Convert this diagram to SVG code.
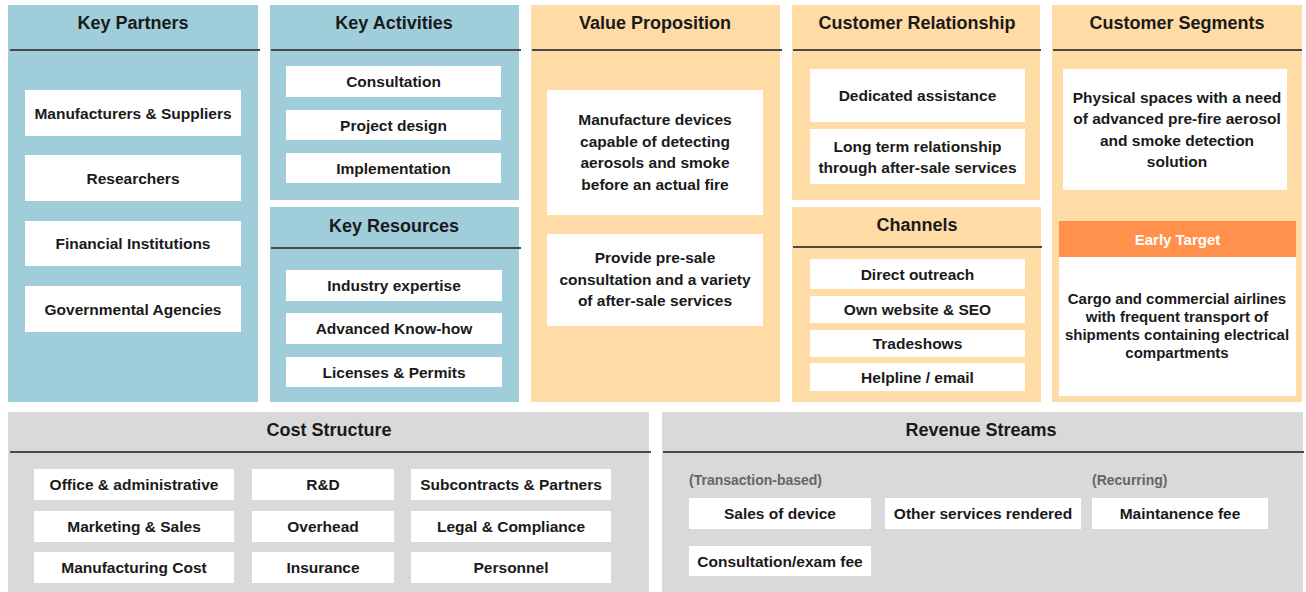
<svg xmlns="http://www.w3.org/2000/svg" width="1306" height="592" viewBox="0 0 1306 592">
  <style>
    .blue { fill: #A0CDDA; }
    .peach { fill: #FFDBA6; }
    .grey { fill: #D9D9D9; }
    .card { fill: #FFFFFF; }
    .rule { stroke: #4A4A4A; stroke-width: 2; }
    text { font-family: "Liberation Sans", Arial, sans-serif; font-weight: bold; fill: #1A1A1A; text-anchor: middle; }
    .title { font-size: 18px; }
    .item { font-size: 15.5px; }
    .small { font-size: 15px; }
    .note { font-size: 14px; fill: #666666; text-anchor: start; }
    .tag { font-size: 15px; fill: #FFFFFF; }
  </style>

  <rect width="1306" height="592" fill="#FFFFFF"/>

  <!-- Key Partners -->
  <g id="key-partners">
    <rect class="blue" x="8" y="5" width="250" height="397"/>
    <line class="rule" x1="10" y1="50" x2="260" y2="50"/>
    <text class="title" x="133" y="29">Key Partners</text>
    <rect class="card" x="25" y="90" width="216" height="46"/>
    <text class="item" x="133" y="118.5">Manufacturers &amp; Suppliers</text>
    <rect class="card" x="25" y="155" width="216" height="46"/>
    <text class="item" x="133" y="183.5">Researchers</text>
    <rect class="card" x="25" y="221" width="216" height="45"/>
    <text class="item" x="133" y="249">Financial Institutions</text>
    <rect class="card" x="25" y="286" width="216" height="46"/>
    <text class="item" x="133" y="314.5">Governmental Agencies</text>
  </g>

  <!-- Key Activities -->
  <g id="key-activities">
    <rect class="blue" x="270" y="5" width="249" height="195"/>
    <line class="rule" x1="271" y1="50" x2="521" y2="50"/>
    <text class="title" x="394" y="29">Key Activities</text>
    <rect class="card" x="286" y="66" width="215" height="31"/>
    <text class="item" x="393.5" y="87">Consultation</text>
    <rect class="card" x="286" y="110" width="215" height="30"/>
    <text class="item" x="393.5" y="130.5">Project design</text>
    <rect class="card" x="286" y="153" width="215" height="30"/>
    <text class="item" x="393.5" y="173.5">Implementation</text>
  </g>

  <!-- Key Resources -->
  <g id="key-resources">
    <rect class="blue" x="270" y="207" width="249" height="195"/>
    <line class="rule" x1="271" y1="248" x2="521" y2="248"/>
    <text class="title" x="394" y="232">Key Resources</text>
    <rect class="card" x="286" y="270" width="216" height="31"/>
    <text class="item" x="394" y="291">Industry expertise</text>
    <rect class="card" x="286" y="313" width="216" height="31"/>
    <text class="item" x="394" y="334">Advanced Know-how</text>
    <rect class="card" x="286" y="357" width="216" height="30"/>
    <text class="item" x="394" y="377.5">Licenses &amp; Permits</text>
  </g>

  <!-- Value Proposition -->
  <g id="value-proposition">
    <rect class="peach" x="531" y="5" width="249" height="397"/>
    <line class="rule" x1="532" y1="50" x2="782" y2="50"/>
    <text class="title" x="655" y="29">Value Proposition</text>
    <rect class="card" x="547" y="90" width="216" height="125"/>
    <text class="item" x="655" y="125">Manufacture devices</text>
    <text class="item" x="655" y="146.5">capable of detecting</text>
    <text class="item" x="655" y="168">aerosols and smoke</text>
    <text class="item" x="655" y="189.5">before an actual fire</text>
    <rect class="card" x="547" y="234" width="216" height="92"/>
    <text class="item" x="655" y="263">Provide pre-sale</text>
    <text class="item" x="655" y="284.5">consultation and a variety</text>
    <text class="item" x="655" y="306">of after-sale services</text>
  </g>

  <!-- Customer Relationship -->
  <g id="customer-relationship">
    <rect class="peach" x="792" y="5" width="248" height="195"/>
    <line class="rule" x1="793" y1="50" x2="1041" y2="50"/>
    <text class="title" x="917" y="29">Customer Relationship</text>
    <rect class="card" x="810" y="69" width="215" height="53"/>
    <text class="item" x="917.5" y="100.5">Dedicated assistance</text>
    <rect class="card" x="810" y="129" width="215" height="55"/>
    <text class="item" x="917.5" y="151.5">Long term relationship</text>
    <text class="item" x="917.5" y="172.5">through after-sale services</text>
  </g>

  <!-- Channels -->
  <g id="channels">
    <rect class="peach" x="792" y="207" width="249" height="195"/>
    <line class="rule" x1="793" y1="247" x2="1042" y2="247"/>
    <text class="title" x="917" y="231">Channels</text>
    <rect class="card" x="810" y="259" width="215" height="30"/>
    <text class="item" x="917.5" y="279.5">Direct outreach</text>
    <rect class="card" x="810" y="296" width="215" height="27"/>
    <text class="item" x="917.5" y="315">Own website &amp; SEO</text>
    <rect class="card" x="810" y="330" width="215" height="27"/>
    <text class="item" x="917.5" y="349">Tradeshows</text>
    <rect class="card" x="810" y="363" width="215" height="28"/>
    <text class="item" x="917.5" y="382.5">Helpline / email</text>
  </g>

  <!-- Customer Segments -->
  <g id="customer-segments">
    <rect class="peach" x="1052" y="5" width="250" height="397"/>
    <line class="rule" x1="1053" y1="50" x2="1302" y2="50"/>
    <text class="title" x="1177" y="29">Customer Segments</text>
    <rect class="card" x="1063" y="69" width="224" height="121"/>
    <text class="item" x="1177" y="102.5">Physical spaces with a need</text>
    <text class="item" x="1177" y="124">of advanced pre-fire aerosol</text>
    <text class="item" x="1177" y="145.5">and smoke detection</text>
    <text class="item" x="1177" y="167">solution</text>
  </g>

  <!-- Early target segment -->
  <g id="early-target">
    <rect x="1059" y="221" width="237" height="36" fill="#FF914D"/>
    <text class="tag" x="1177.5" y="245">Early Target</text>
    <rect class="card" x="1059" y="257" width="237" height="139"/>
    <text class="small" x="1177" y="304">Cargo and commercial airlines</text>
    <text class="small" x="1177" y="322">with frequent transport of</text>
    <text class="small" x="1177" y="340">shipments containing electrical</text>
    <text class="small" x="1177" y="357.5">compartments</text>
  </g>

  <!-- Cost Structure -->
  <g id="cost-structure">
    <rect class="grey" x="8" y="412" width="641" height="180"/>
    <line class="rule" x1="10" y1="452" x2="651" y2="452"/>
    <text class="title" x="329" y="436">Cost Structure</text>
    <rect class="card" x="34" y="469" width="200" height="31"/>
    <text class="item" x="134" y="490">Office &amp; administrative</text>
    <rect class="card" x="34" y="511" width="200" height="31"/>
    <text class="item" x="134" y="532">Marketing &amp; Sales</text>
    <rect class="card" x="34" y="552" width="200" height="31"/>
    <text class="item" x="134" y="573">Manufacturing Cost</text>
    <rect class="card" x="252" y="469" width="142" height="31"/>
    <text class="item" x="323" y="490">R&amp;D</text>
    <rect class="card" x="252" y="511" width="142" height="31"/>
    <text class="item" x="323" y="532">Overhead</text>
    <rect class="card" x="252" y="552" width="142" height="31"/>
    <text class="item" x="323" y="573">Insurance</text>
    <rect class="card" x="411" y="469" width="200" height="31"/>
    <text class="item" x="511" y="490">Subcontracts &amp; Partners</text>
    <rect class="card" x="411" y="511" width="200" height="31"/>
    <text class="item" x="511" y="532">Legal &amp; Compliance</text>
    <rect class="card" x="411" y="552" width="200" height="31"/>
    <text class="item" x="511" y="573">Personnel</text>
  </g>

  <!-- Revenue Streams -->
  <g id="revenue-streams">
    <rect class="grey" x="662" y="412" width="641" height="180"/>
    <line class="rule" x1="663" y1="452" x2="1304" y2="452"/>
    <text class="title" x="981" y="436">Revenue Streams</text>
    <text class="note" x="689" y="485">(Transaction-based)</text>
    <text class="note" x="1092" y="485">(Recurring)</text>
    <rect class="card" x="689" y="498" width="182" height="31"/>
    <text class="item" x="780" y="519">Sales of device</text>
    <rect class="card" x="885" y="498" width="196" height="31"/>
    <text class="item" x="983" y="519">Other services rendered</text>
    <rect class="card" x="1092" y="498" width="176" height="31"/>
    <text class="item" x="1180" y="519">Maintanence fee</text>
    <rect class="card" x="689" y="546" width="182" height="30"/>
    <text class="item" x="780" y="566.5">Consultation/exam fee</text>
  </g>
</svg>
